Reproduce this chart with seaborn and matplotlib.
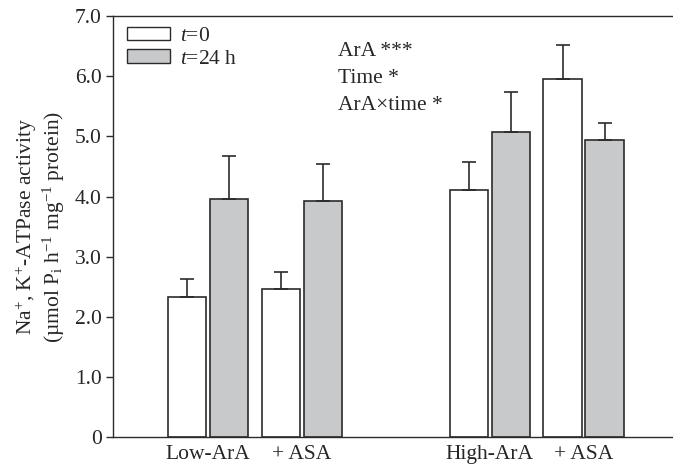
import numpy as np
import pandas as pd
import matplotlib
matplotlib.use("Agg")
import matplotlib.pyplot as plt
import seaborn as sns
from matplotlib.patches import Patch

# data
groups = ["Low-ArA", "+ ASA", "High-ArA", "+ ASA"]
group_pos = [0, 1, 3, 4]
times = ["$t$=0", "$t$=24 h"]
activity_t0 = [2.33, 2.47, 4.11, 5.95]
activity_t24 = [3.96, 3.92, 5.08, 4.94]
err_t0 = [0.29, 0.27, 0.47, 0.57]
err_t24 = [0.72, 0.62, 0.65, 0.29]
yticks = [0, 1, 2, 3, 4, 5, 6, 7]
ytick_labels = ["0", "1.0", "2.0", "3.0", "4.0", "5.0", "6.0", "7.0"]
stats_text = ["ArA ***", "Time *", "ArA\u00d7time *"]

sns.set_style("ticks")
plt.rcParams["font.family"] = ["Liberation Serif", "DejaVu Serif"]
plt.rcParams["mathtext.fontset"] = "custom"
plt.rcParams["mathtext.rm"] = "Liberation Serif"
plt.rcParams["mathtext.it"] = "Liberation Serif:italic"
plt.rcParams["font.size"] = 15.5

edge = "#2b2b2b"
colors = ["white", "#c8c9cb"]

df = pd.DataFrame({
    "pos": group_pos * 2,
    "time": [times[0]] * 4 + [times[1]] * 4,
    "value": activity_t0 + activity_t24,
    "err": err_t0 + err_t24,
})

fig = plt.figure(figsize=(6.73, 4.74), dpi=100)
ax = fig.add_axes([0.168, 0.078, 0.832, 0.888])

sns.barplot(data=df, x="pos", y="value", hue="time", hue_order=times,
            palette=colors, native_scale=True, width=0.894, gap=0.083,
            edgecolor=edge, linewidth=1.2, errorbar=None, legend=False, ax=ax)

# upward-only error bars placed on top of each drawn bar
bars = sorted([p for p in ax.patches if p.get_width() > 0], key=lambda p: p.get_x())
errs = df.sort_values(["pos", "time"])["err"].to_numpy()
xs = [b.get_x() + b.get_width() / 2 for b in bars]
hs = [b.get_height() for b in bars]
ax.errorbar(xs, hs, yerr=[np.zeros(len(errs)), errs], fmt="none",
            ecolor=edge, elinewidth=1.2, capsize=5, capthick=1.2, zorder=5)

ax.set_xlim(-1.01, 4.95)
ax.set_ylim(0, 7)
ax.set_xticks(group_pos)
ax.set_xticklabels(groups)
ax.set_yticks(yticks)
ax.set_yticklabels(ytick_labels)
ax.tick_params(axis="x", length=0, pad=6)
ax.tick_params(axis="y", direction="out", length=5, width=1.0, color=edge, pad=3)
ax.set_xlabel("")
ax.set_ylabel("Na$^{+}$, K$^{+}$-ATPase activity\n(\u00b5mol P$_\\mathrm{i}$ h$^{-1}$ mg$^{-1}$ protein)",
              labelpad=6, linespacing=1.1)

for side in ["left", "bottom", "top"]:
    ax.spines[side].set_color(edge)
    ax.spines[side].set_linewidth(1.0)
ax.spines["right"].set_visible(False)

handles = [Patch(facecolor=c, edgecolor=edge, linewidth=1.0) for c in colors]
ax.legend(handles, times, loc="upper left", bbox_to_anchor=(0.025, 0.975),
          frameon=False, borderpad=0, borderaxespad=0, handlelength=2.0,
          handleheight=0.6, handletextpad=0.45, labelspacing=0.15)

for txt, yy in zip(stats_text, [0.905, 0.841, 0.776]):
    ax.text(0.402, yy, txt, transform=ax.transAxes, va="baseline", ha="left")

fig.savefig("out.png", dpi=100)
